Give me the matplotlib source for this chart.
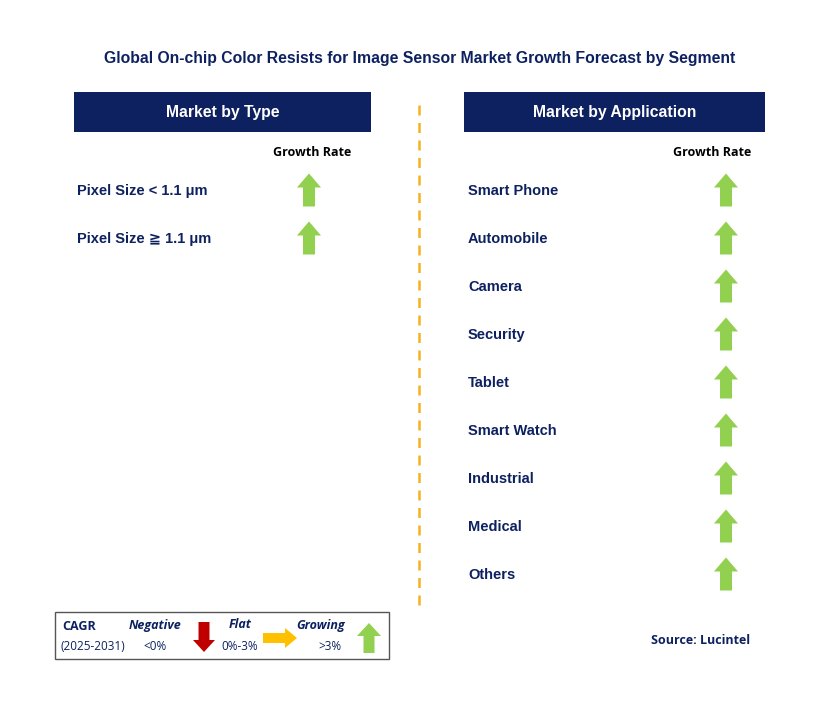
import matplotlib.pyplot as plt
from matplotlib.patches import Rectangle, Polygon

plt.rcParams["font.family"] = ["Liberation Sans", "DejaVu Sans"]

title = "Global On-chip Color Resists for Image Sensor Market Growth Forecast by Segment"
type_labels = ["Pixel Size < 1.1 \u03bcm", "Pixel Size \u2267 1.1 \u03bcm"]
type_growth = ["up", "up"]
app_labels = ["Smart Phone", "Automobile", "Camera", "Security", "Tablet",
              "Smart Watch", "Industrial", "Medical", "Others"]
app_growth = ["up"] * 9

NAVY = "#0d2160"
GREEN = "#92d050"
W, H = 829, 705
LEG = ["Open Sans", "DejaVu Sans"]

fig = plt.figure(figsize=(W / 100, H / 100), dpi=100)
ax = fig.add_axes([0, 0, 1, 1])
ax.set_xlim(0, W)
ax.set_ylim(H, 0)
ax.axis("off")


def arrow(cx, cy, direction, color, w=24, h=33, sw=12, hh=14):
    # cx, cy centre of arrow
    if direction == "up":
        t, b = cy - h / 2, cy + h / 2
        pts = [(cx, t), (cx + w / 2, t + hh), (cx + sw / 2, t + hh), (cx + sw / 2, b),
               (cx - sw / 2, b), (cx - sw / 2, t + hh), (cx - w / 2, t + hh)]
    elif direction == "down":
        t, b = cy - h / 2, cy + h / 2
        pts = [(cx, b), (cx + w / 2, b - hh), (cx + sw / 2, b - hh), (cx + sw / 2, t),
               (cx - sw / 2, t), (cx - sw / 2, b - hh), (cx - w / 2, b - hh)]
    else:
        l, r = cx - h / 2, cx + h / 2
        pts = [(r, cy), (r - hh, cy - w / 2), (r - hh, cy - sw / 2), (l, cy - sw / 2),
               (l, cy + sw / 2), (r - hh, cy + sw / 2), (r - hh, cy + w / 2)]
    ax.add_patch(Polygon(pts, closed=True, color=color, lw=0))


ax.text(420, 58, title, ha="center", va="center", fontsize=11.3, fontweight="bold", color=NAVY)

# headers
for x0, x1, label in [(74, 371, "Market by Type"), (464, 765, "Market by Application")]:
    ax.add_patch(Rectangle((x0, 92), x1 - x0, 40, color=NAVY, lw=0))
    ax.text((x0 + x1) / 2, 113, label, ha="center", va="center", fontsize=11.3,
            fontweight="bold", color="white")

ax.plot([419, 419], [105, 605], color="#f5b220", lw=1.8, ls=(0, (4, 3)))

ax.text(312, 152, "Growth Rate", ha="center", va="center", fontsize=9, fontweight="bold", family=LEG)
ax.text(712, 152, "Growth Rate", ha="center", va="center", fontsize=9, fontweight="bold", family=LEG)

for i, (lab, g) in enumerate(zip(type_labels, type_growth)):
    y = 190 + i * 48
    ax.text(77, y + 1, lab, ha="left", va="center", fontsize=10.5, fontweight="bold", color=NAVY)
    arrow(309, y, g, GREEN)

for i, (lab, g) in enumerate(zip(app_labels, app_growth)):
    y = 190 + i * 48
    ax.text(468, y + 1, lab, ha="left", va="center", fontsize=10.5, fontweight="bold", color=NAVY)
    arrow(726, y, g, GREEN)

# legend box
ax.add_patch(Rectangle((55, 612), 334, 47, fill=False, ec="#555555", lw=1))
ax.text(62, 627, "CAGR", fontsize=9, fontweight="bold", color=NAVY, va="center", family=LEG)
ax.text(61, 646, "(2025-2031)", fontsize=8.5, color=NAVY, va="center", family=LEG)
ax.text(155, 625, "Negative", fontsize=9, fontweight="bold", style="italic", color=NAVY, ha="center", va="center", family=LEG)
ax.text(155, 647, "<0%", fontsize=8.5, color=NAVY, ha="center", va="center", family=LEG)
arrow(204, 637, "down", "#c00000", w=22, h=30, sw=11, hh=12)
ax.text(240, 625, "Flat", fontsize=9, fontweight="bold", style="italic", color=NAVY, ha="center", va="center", family=LEG)
ax.text(240, 647, "0%-3%", fontsize=8.5, color=NAVY, ha="center", va="center", family=LEG)
arrow(280, 638, "right", "#ffc000", w=20, h=34, sw=10, hh=12)
ax.text(321, 625, "Growing", fontsize=9, fontweight="bold", style="italic", color=NAVY, ha="center", va="center", family=LEG)
ax.text(330, 646, ">3%", fontsize=8.5, color=NAVY, ha="center", va="center", family=LEG)
arrow(369, 638, "up", GREEN, w=24, h=30, sw=11, hh=13)

ax.text(750, 641, "Source: Lucintel", ha="right", va="center", fontsize=9, fontweight="bold", color=NAVY, family=LEG)

fig.savefig("out.png", dpi=100)
